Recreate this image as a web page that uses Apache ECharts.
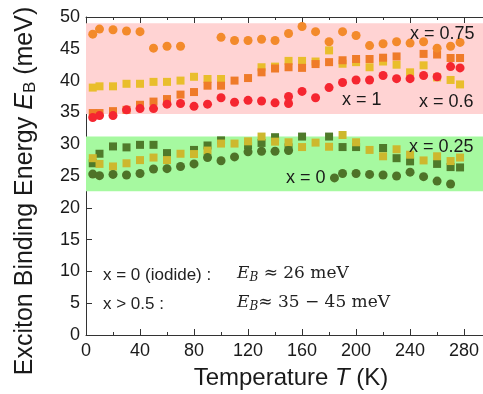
<!DOCTYPE html>
<html>
<head>
<meta charset="utf-8">
<script src="https://cdn.jsdelivr.net/npm/echarts@6/dist/echarts.min.js"></script>
<style>
  html, body { margin: 0; padding: 0; background: #fff; }
  #chart { width: 483px; height: 394px; }
</style>
</head>
<body>
<div id="chart"></div>
<script>
// Exciton binding energy vs temperature for mixed-halide compositions

// Shaded ranges (meV)
const pinkBand = [34.75, 49];
const greenBand = [22.6, 31.2];

// x = 0.75, circles
const tOrangeCircles = [5, 10, 20, 30, 40, 50, 60, 70, 100, 110, 120, 130, 140, 150, 160, 170, 180, 190, 200, 210, 220, 230, 240, 250, 260, 270, 277];
const eOrangeCircles = [47.3, 48.1, 48.0, 47.8, 47.7, 45.1, 45.4, 45.4, 46.8, 46.3, 46.3, 46.5, 46.3, 47.4, 48.5, 47.7, 46.1, 47.7, 47.1, 45.5, 45.8, 46.1, 45.9, 46.1, 45.1, 45.4, 46.0];

// x = 0.6, squares
const tYellowUpper = [5, 10, 20, 30, 40, 50, 60, 70, 80, 90, 100, 130, 140, 150, 160, 170, 180, 190, 200, 210, 220, 230, 240, 250, 260, 270, 277];
const eYellowUpper = [38.9, 39.1, 39.1, 39.5, 39.5, 39.8, 39.8, 40.0, 40.6, 40.25, 40.25, 42.1, 42.2, 43.1, 43.1, 43.0, 44.75, 42.65, 42.9, 42.1, 43.0, 42.5, 41.3, 42.4, 40.5, 40.1, 39.4];

// x = 0.75, squares
const tOrangeSquares = [5, 10, 20, 30, 40, 50, 60, 70, 80, 90, 100, 110, 120, 130, 140, 150, 160, 170, 180, 190, 200, 210, 220, 230, 250, 260, 270, 277];
const eOrangeSquares = [34.9, 34.9, 35.2, 35.4, 36.2, 36.7, 37.1, 37.8, 38.2, 39.2, 39.2, 40.0, 40.4, 41.3, 41.9, 42.1, 42.0, 42.6, 42.9, 43.2, 43.4, 43.4, 43.6, 43.8, 44.2, 44.1, 43.55, 43.55];

// x = 1, circles
const tRedCircles = [5, 10, 20, 30, 40, 50, 60, 70, 80, 90, 100, 110, 120, 130, 140, 150, 150, 160, 170, 180, 190, 200, 210, 220, 230, 240, 250, 260, 270, 277];
const eRedCircles = [34.2, 34.5, 34.5, 35.4, 35.6, 35.6, 36.3, 36.4, 35.95, 36.3, 37.3, 36.6, 36.9, 36.8, 36.5, 37.5, 36.4, 38.3, 37.3, 38.9, 39.7, 40.1, 40.1, 40.8, 40.3, 40.3, 40.8, 40.6, 42.2, 42.0];

// x = 0, squares
const tGreenSquares = [5, 10, 20, 30, 40, 50, 60, 80, 90, 100, 120, 130, 140, 150, 160, 180, 190, 200, 220, 230, 240, 260, 270, 277];
const eGreenSquares = [27.0, 28.5, 29.65, 29.5, 29.9, 29.9, 28.6, 29.1, 29.8, 30.6, 29.8, 30.2, 31.1, 29.5, 31.2, 31.2, 29.55, 29.55, 29.4, 27.8, 27.3, 26.9, 26.4, 26.35];

// x = 0.25, squares
const tYellowLower = [5, 10, 20, 30, 40, 50, 60, 70, 80, 90, 100, 110, 120, 130, 140, 150, 160, 170, 180, 190, 200, 210, 220, 230, 240, 250, 260, 270, 277];
const eYellowLower = [27.8, 26.9, 26.5, 27.0, 27.5, 27.9, 27.5, 28.5, 28.45, 29.0, 30.1, 30.1, 30.45, 31.2, 30.4, 30.3, 29.55, 30.25, 29.6, 31.45, 30.3, 29.1, 28.1, 29.2, 28.35, 27.45, 28.1, 27.35, 27.9];

// x = 0, circles
const tGreenCircles = [5, 10, 20, 30, 40, 50, 60, 70, 80, 90, 100, 110, 120, 130, 140, 150, 184, 190, 200, 210, 220, 230, 240, 250, 260, 270];
const eGreenCircles = [25.3, 25.05, 25.25, 25.15, 25.4, 26.1, 26.15, 26.5, 26.9, 27.9, 27.4, 28.0, 28.8, 28.9, 28.9, 29.0, 24.7, 25.4, 25.4, 25.25, 25.15, 25.0, 25.6, 24.9, 24.2, 23.75];

const xTicks = { min: 0, max: 294, interval: 40 };
const yTicks = { min: 0, max: 50, interval: 5 };

const pairs = (t, e) => t.map((v, i) => [v, e[i]]);

const sans = 'Liberation Sans, Arial, sans-serif';
const serif = 'DejaVu Serif, Liberation Serif, serif';
const ink = '#1a1a1a';
const axisColor = '#333';

function scatter(name, t, e, symbol, size, color) {
  return {
    name, type: 'scatter', data: pairs(t, e), symbol, symbolSize: size,
    itemStyle: { color, opacity: 1 }, silent: true, z: 3
  };
}

const chart = echarts.init(document.getElementById('chart'), null, { renderer: 'canvas' });

chart.setOption({
  animation: false,
  backgroundColor: '#fff',
  grid: { left: 86, right: 0, top: 17, bottom: 59, containLabel: false },
  xAxis: [{
    type: 'value', min: xTicks.min, max: xTicks.max, interval: xTicks.interval,
    position: 'bottom',
    axisLine: { show: true, lineStyle: { color: axisColor, width: 1 } },
    axisTick: { show: true, inside: true, length: 6, lineStyle: { color: axisColor } },
    minorTick: { show: true, splitNumber: 2, length: 3, lineStyle: { color: axisColor } },
    axisLabel: { fontFamily: sans, fontSize: 18, color: ink, margin: 7, showMaxLabel: false },
    splitLine: { show: false }, minorSplitLine: { show: false }
  }, {
    type: 'value', min: xTicks.min, max: xTicks.max, interval: xTicks.interval,
    position: 'top',
    axisLine: { show: true, lineStyle: { color: axisColor, width: 1 } },
    axisTick: { show: true, inside: true, length: 6, lineStyle: { color: axisColor } },
    minorTick: { show: true, splitNumber: 2, length: 3, lineStyle: { color: axisColor } },
    axisLabel: { show: false },
    splitLine: { show: false }
  }],
  yAxis: {
    type: 'value', min: yTicks.min, max: yTicks.max, interval: yTicks.interval,
    axisLine: { show: true, lineStyle: { color: axisColor, width: 1 } },
    axisTick: { show: true, inside: true, length: 6, lineStyle: { color: axisColor } },
    axisLabel: { fontFamily: sans, fontSize: 18, color: ink, margin: 6 },
    splitLine: { show: false }
  },
  series: [
    {
      type: 'scatter', data: [], silent: true, z: 1,
      markArea: {
        silent: true,
        data: [
          [{ yAxis: pinkBand[0], itemStyle: { color: '#FFD3D3' } }, { yAxis: pinkBand[1] }],
          [{ yAxis: greenBand[0], itemStyle: { color: '#A6F9A0' } }, { yAxis: greenBand[1] }]
        ]
      }
    },
    scatter('x = 0.6', tYellowUpper, eYellowUpper, 'rect', 8, '#E9BE2C'),
    scatter('x = 0.75 sq', tOrangeSquares, eOrangeSquares, 'rect', 8, '#EF7B29'),
    scatter('x = 0.75', tOrangeCircles, eOrangeCircles, 'circle', 9, '#F38A2B'),
    scatter('x = 1', tRedCircles, eRedCircles, 'circle', 9, '#F52630'),
    scatter('x = 0 sq', tGreenSquares, eGreenSquares, 'rect', 8, '#4F7A2A'),
    scatter('x = 0.25', tYellowLower, eYellowLower, 'rect', 8, '#CDB82E'),
    scatter('x = 0', tGreenCircles, eGreenCircles, 'circle', 9, '#4E7328')
  ],
  graphic: [
    // axis titles
    {
      type: 'text', x: 25, y: 191, rotation: Math.PI / 2, z: 10,
      style: {
        text: 'Exciton Binding Energy {i|E}{s|B} (meV)', font: '25px ' + sans, fill: ink,
        align: 'center', verticalAlign: 'middle',
        rich: {
          i: { fontFamily: sans, fontSize: 25, fontStyle: 'italic', fill: ink },
          s: { fontFamily: sans, fontSize: 17, fill: ink, padding: [10, 0, 0, 0] }
        }
      }
    },
    {
      type: 'text', x: 291, y: 378, z: 10,
      style: {
        text: 'Temperature {i|T} (K)', font: '24px ' + sans, fill: ink,
        align: 'center', verticalAlign: 'middle',
        rich: { i: { fontFamily: sans, fontSize: 24, fontStyle: 'italic', fill: ink } }
      }
    },
    // composition labels
    { type: 'text', left: 410, top: 25, z: 10, style: { text: 'x = 0.75', font: '18px ' + sans, fill: ink } },
    { type: 'text', left: 342, top: 91, z: 10, style: { text: 'x = 1', font: '18px ' + sans, fill: ink } },
    { type: 'text', left: 419, top: 93, z: 10, style: { text: 'x = 0.6', font: '18px ' + sans, fill: ink } },
    { type: 'text', left: 409, top: 138, z: 10, style: { text: 'x = 0.25', font: '18px ' + sans, fill: ink } },
    { type: 'text', left: 286, top: 169, z: 10, style: { text: 'x = 0', font: '18px ' + sans, fill: ink } },
    // summary notes
    { type: 'text', left: 103, top: 267, z: 10, style: { text: 'x = 0 (iodide) :', font: '17px ' + sans, fill: '#222' } },
    { type: 'text', left: 103, top: 296, z: 10, style: { text: 'x > 0.5 :', font: '17px ' + sans, fill: '#222' } },
    {
      type: 'text', left: 237, top: 265, z: 10,
      style: {
        text: '{e|E}{b|B} ≈ 26 meV', font: '17px ' + serif, fill: '#222',
        rich: {
          e: { fontFamily: serif, fontSize: 17, fontStyle: 'italic', fill: '#222' },
          b: { fontFamily: serif, fontSize: 12, fontStyle: 'italic', fill: '#222', padding: [8, 0, 0, 0] }
        }
      }
    },
    {
      type: 'text', left: 237, top: 294, z: 10,
      style: {
        text: '{e|E}{b|B}≈ 35 − 45 meV', font: '17px ' + serif, fill: '#222',
        rich: {
          e: { fontFamily: serif, fontSize: 17, fontStyle: 'italic', fill: '#222' },
          b: { fontFamily: serif, fontSize: 12, fontStyle: 'italic', fill: '#222', padding: [8, 0, 0, 0] }
        }
      }
    }
  ]
});
</script>
</body>
</html>
